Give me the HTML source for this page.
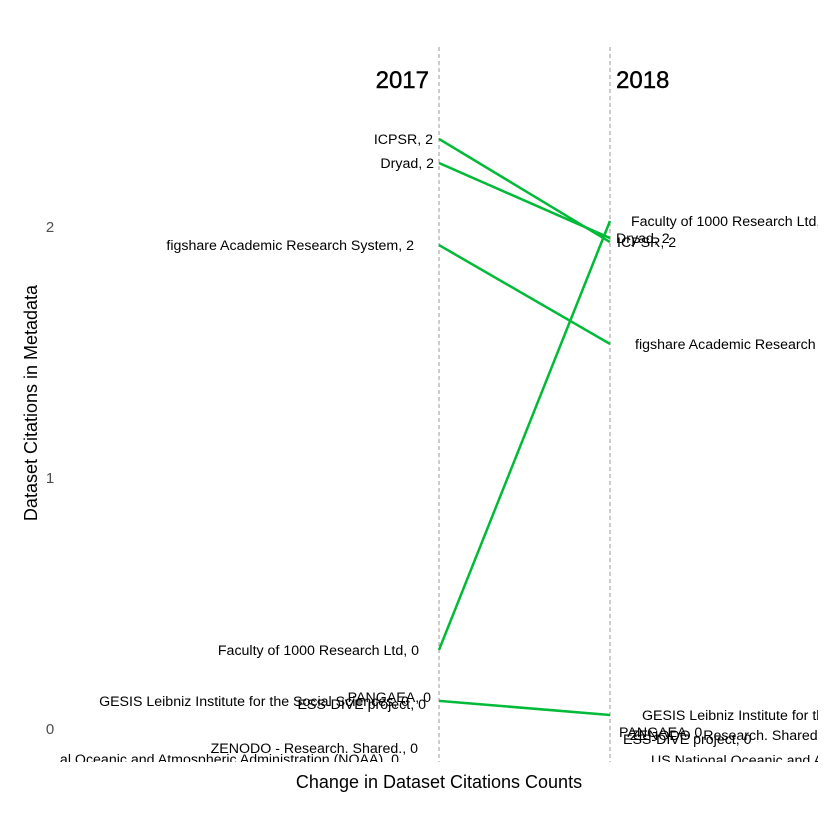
<!DOCTYPE html>
<html><head><meta charset="utf-8"><style>
body{margin:0;background:#fff;}
svg{display:block;font-family:"Liberation Sans",sans-serif;}
</style></head><body>
<svg id="c" width="840" height="840">
<defs><clipPath id="clip"><rect x="60" y="40" width="758" height="722"/></clipPath></defs>
<g id="plot" clip-path="url(#clip)"></g>
<text x="37" y="403" transform="rotate(-90 37 403)" text-anchor="middle" font-size="18" fill="#000">Dataset Citations in Metadata</text>
<text x="439" y="788" text-anchor="middle" font-size="18" fill="#000">Change in Dataset Citations Counts</text>
</svg>
<script>
const names=["ICPSR","Dryad","figshare Academic Research System","Faculty of 1000 Research Ltd","GESIS Leibniz Institute for the Social Sciences","PANGAEA","ESS-DIVE project","ZENODO - Research. Shared.","US National Oceanic and Atmospheric Administration (NOAA)"];
const val2017=[2,2,2,0,0,0,0,0,0];
const val2018=[2,2,2,2,0,0,0,0,0];
const y2017=[2.347,2.251,1.924,0.311,0.108,0.123,0.095,-0.08,-0.124];
const y2018=[1.936,1.952,1.53,2.02,0.052,-0.016,-0.044,-0.028,-0.127];
const hasLine=[true,true,true,true,true,false,false,false,false];
const yTicks=[0,1,2];
const years=["2017","2018"];
const svg=document.getElementById('c'),plot=document.getElementById('plot');
const NS="http://www.w3.org/2000/svg";
const yS=v=>728-v*251;
const x1=439,x2=610;
function mk(t,a,p){const e=document.createElementNS(NS,t);for(const k in a)e.setAttribute(k,a[k]);(p||svg).appendChild(e);return e;}
yTicks.forEach(t=>{const e=mk('text',{x:50,y:yS(t)+6,'text-anchor':'middle','font-size':15,fill:'#4d4d4d'});


e.textContent=t;});
[x1,x2].forEach(x=>{const l=mk('line',{x1:x,x2:x,y1:47,y2:762,stroke:'#999','stroke-dasharray':'4,3','stroke-width':1},plot);

});
const h1=mk('text',{x:429,y:88,'text-anchor':'end','font-size':24,fill:'#000','stroke':'#000','stroke-width':0.4});


h1.textContent=years[0];
const h2=mk('text',{x:616,y:88,'font-size':24,fill:'#000','stroke':'#000','stroke-width':0.4});


h2.textContent=years[1];
const lOff=[6,5,25,20,30,8,13,21,40];
const rOff=[7,6,25,21,32,9,13,20,41];
names.forEach((n,i)=>{
 if(hasLine[i]){const l=mk('line',{x1:x1,y1:yS(y2017[i]),x2:x2,y2:yS(y2018[i]),stroke:'#00ba38','stroke-width':2.5},plot);
 
 }
 const a=mk('text',{x:x1-lOff[i],y:yS(y2017[i])+5,'text-anchor':'end','font-size':14.2,fill:'#000'},plot);
 
 
 a.textContent=n+", "+val2017[i];
 const b=mk('text',{x:x2+rOff[i],y:yS(y2018[i])+5,'font-size':14.2,fill:'#000'},plot);
 
 
 b.textContent=n+", "+val2018[i];
});
</script>
</body></html>
